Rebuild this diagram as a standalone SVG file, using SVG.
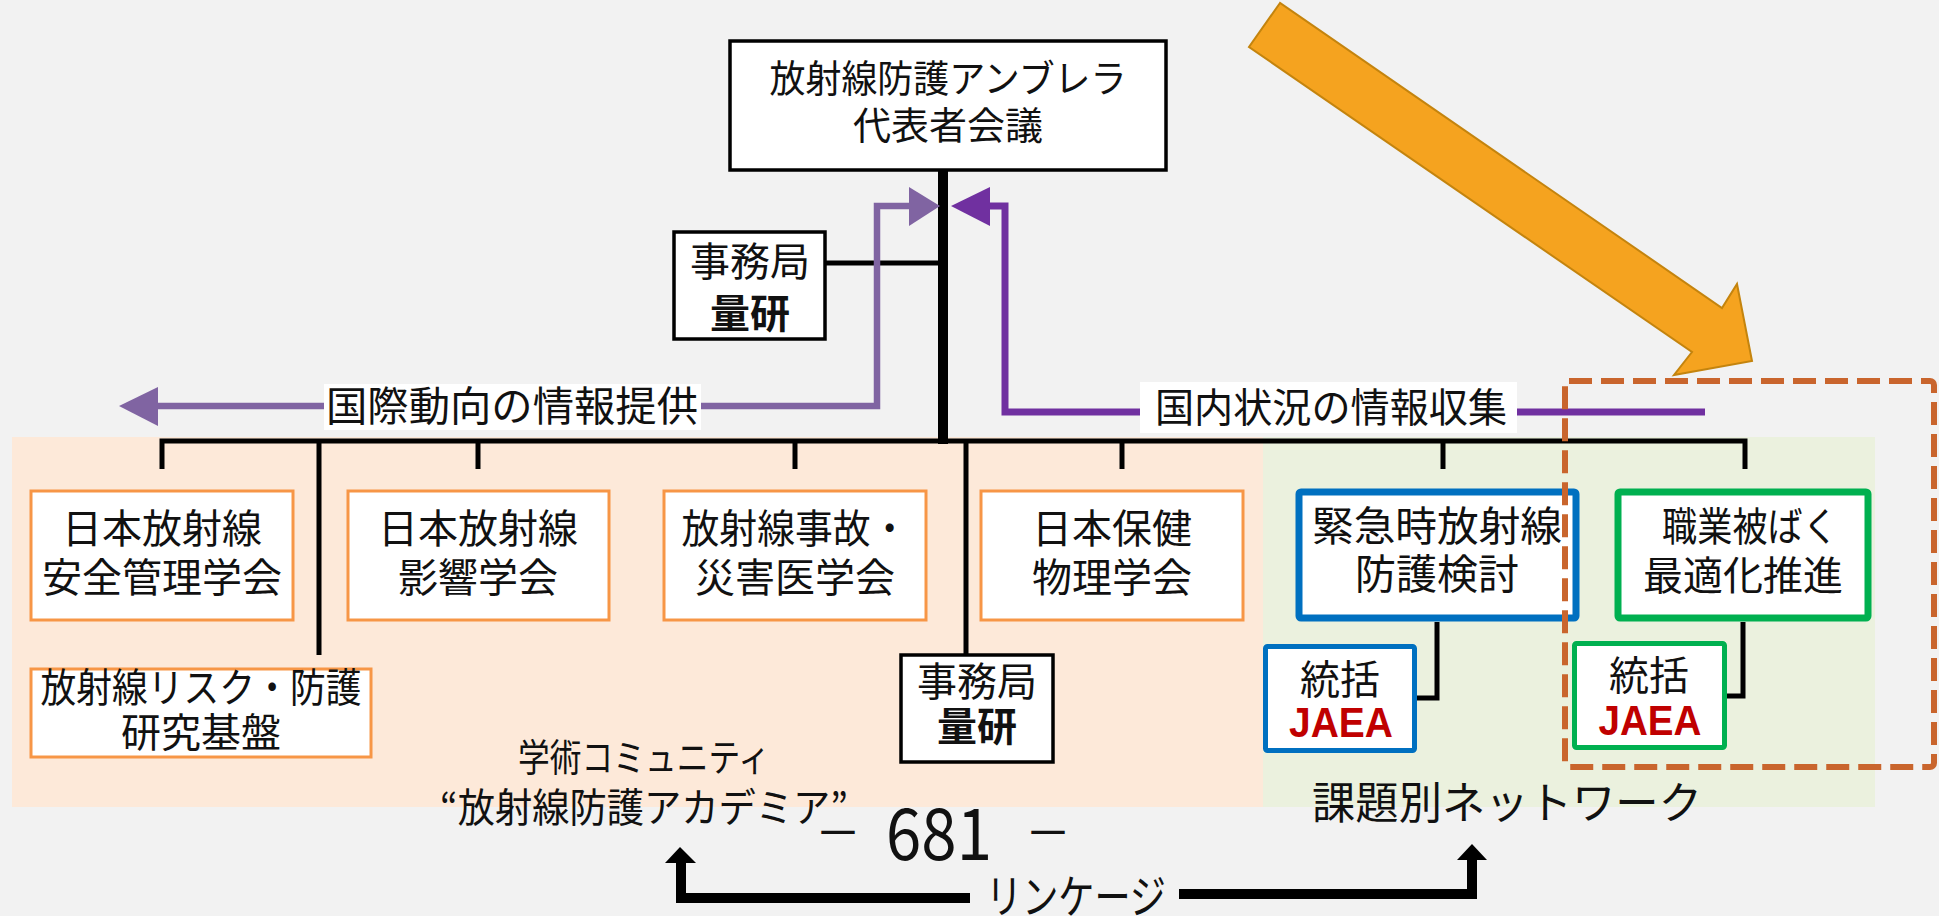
<svg xmlns="http://www.w3.org/2000/svg" width="1939" height="916" viewBox="0 0 1939 916">
<style>
.t{font-family:"Noto Sans CJK JP","Noto Sans",sans-serif;fill:#111;text-anchor:middle}
.b{font-weight:bold}
.j{font-family:"Liberation Sans",Arial,sans-serif;font-weight:bold;fill:#C00000;text-anchor:middle;font-size:42px}
.ob{fill:#fff;stroke:#F79646;stroke-width:3}
.kb{fill:#fff;stroke:#000;stroke-width:3.5}
.blue{fill:#fff;stroke:#0070C0}
.grn{fill:#fff;stroke:#00B050}
.ln{stroke:#000;stroke-width:5;fill:none}
</style>
<rect x="0" y="0" width="1939" height="916" fill="#F2F2F2"/>
<rect x="12" y="437" width="1251" height="370" fill="#FDE9D9"/>
<rect x="1263" y="437" width="612" height="370" fill="#EBF1DE"/>

<g id="connectors">
  <line x1="943" y1="169" x2="943" y2="444" stroke="#000" stroke-width="10"/>
  <line class="ln" x1="825" y1="263" x2="943" y2="263"/>
  <path class="ln" d="M162 469 V441 H1745 V469"/>
  <line class="ln" x1="478" y1="441" x2="478" y2="469"/>
  <line class="ln" x1="795" y1="441" x2="795" y2="469"/>
  <line class="ln" x1="1122" y1="441" x2="1122" y2="469"/>
  <line class="ln" x1="1443" y1="441" x2="1443" y2="469"/>
  <line class="ln" x1="319" y1="441" x2="319" y2="655"/>
  <line class="ln" x1="966" y1="441" x2="966" y2="655"/>
  <path class="ln" d="M1437 622 V698 H1417"/>
  <path class="ln" d="M1743 622 V696 H1727"/>
  <path d="M158 406 H877 V206 H910" fill="none" stroke="#8064A2" stroke-width="6.5"/>
  <polygon points="158,387 119,406 158,426" fill="#8064A2"/>
  <polygon points="909,187 940,206 909,226" fill="#8064A2"/>
  <path d="M1705 412 H1005 V206 H989" fill="none" stroke="#7030A0" stroke-width="7"/>
  <polygon points="990,187 951,206 990,226" fill="#7030A0"/>
  <path d="M970 898 H681 V860" fill="none" stroke="#000" stroke-width="10"/>
  <polygon points="665,863 680,847 696,863" fill="#000"/>
  <path d="M1179 894 H1472 V856" fill="none" stroke="#000" stroke-width="10"/>
  <polygon points="1457,860 1472,844 1487,860" fill="#000"/>
  <polygon points="1280,3 1249,47 1692,352 1674,375 1752,361 1737,284 1722,308" fill="#F5A31F" stroke="#C4840E" stroke-width="2"/>
</g>

<g id="label-intl">
  <rect x="324" y="384" width="377" height="46" fill="#fff"/>
  <text class="t" x="512" y="421" font-size="41" textLength="372" lengthAdjust="spacingAndGlyphs">国際動向の情報提供</text>
</g>
<g id="label-dom">
  <rect x="1140" y="382" width="377" height="51" fill="#fff"/>
  <text class="t" x="1331" y="422" font-size="40" textLength="352" lengthAdjust="spacingAndGlyphs">国内状況の情報収集</text>
</g>

<g id="node-top">
  <rect class="kb" x="730" y="41" width="436" height="129"/>
  <text class="t" x="948" y="92" font-size="38" textLength="357" lengthAdjust="spacingAndGlyphs">放射線防護アンブレラ</text>
  <text class="t" x="948" y="139" font-size="38">代表者会議</text>
</g>
<g id="node-sec1">
  <rect class="kb" x="674" y="232" width="151" height="107"/>
  <text class="t" x="750" y="276" font-size="40">事務局</text>
  <text class="t b" x="750" y="328" font-size="40">量研</text>
</g>

<g id="node-jsrpm">
  <rect class="ob" x="31" y="491" width="262" height="129"/>
  <text class="t" x="162" y="543" font-size="40">日本放射線</text>
  <text class="t" x="162" y="592" font-size="40">安全管理学会</text>
</g>
<g id="node-jrrs">
  <rect class="ob" x="348" y="491" width="261" height="129"/>
  <text class="t" x="478" y="543" font-size="40">日本放射線</text>
  <text class="t" x="478" y="592" font-size="40">影響学会</text>
</g>
<g id="node-disaster">
  <rect class="ob" x="664" y="491" width="262" height="129"/>
  <text class="t" x="795" y="543" font-size="40" textLength="227" lengthAdjust="spacingAndGlyphs">放射線事故・</text>
  <text class="t" x="795" y="592" font-size="40">災害医学会</text>
</g>
<g id="node-jhps">
  <rect class="ob" x="981" y="491" width="262" height="129"/>
  <text class="t" x="1112" y="543" font-size="40">日本保健</text>
  <text class="t" x="1112" y="592" font-size="40">物理学会</text>
</g>
<g id="node-risk">
  <rect class="ob" x="31" y="669" width="340" height="88"/>
  <text class="t" x="201" y="702" font-size="40" textLength="321" lengthAdjust="spacingAndGlyphs">放射線リスク・防護</text>
  <text class="t" x="201" y="747" font-size="40">研究基盤</text>
</g>
<g id="node-sec2">
  <rect class="kb" x="901" y="655" width="152" height="107"/>
  <text class="t" x="977" y="696" font-size="40">事務局</text>
  <text class="t b" x="977" y="741" font-size="40">量研</text>
</g>
<g id="node-emerg">
  <rect class="blue" x="1299" y="492" width="277" height="126" stroke-width="7" rx="2"/>
  <text class="t" x="1437" y="541" font-size="41" textLength="250" lengthAdjust="spacingAndGlyphs">緊急時放射線</text>
  <text class="t" x="1437" y="589" font-size="41">防護検討</text>
</g>
<g id="node-jaea1">
  <rect class="blue" x="1265.5" y="646.5" width="149" height="104" stroke-width="5" rx="2"/>
  <text class="t" x="1340" y="694" font-size="40">統括</text>
  <text class="j" x="1341" y="737" textLength="104" lengthAdjust="spacingAndGlyphs">JAEA</text>
</g>
<g id="node-occup">
  <rect class="grn" x="1618" y="492" width="250" height="126" stroke-width="7" rx="2"/>
  <text class="t" x="1750" y="541" font-size="40" textLength="176" lengthAdjust="spacingAndGlyphs">職業被ばく</text>
  <text class="t" x="1743" y="590" font-size="40">最適化推進</text>
</g>
<g id="node-jaea2">
  <rect class="grn" x="1574.5" y="643.5" width="150" height="104" stroke-width="5" rx="2"/>
  <text class="t" x="1649" y="690" font-size="40">統括</text>
  <text class="j" x="1650" y="735" textLength="103" lengthAdjust="spacingAndGlyphs">JAEA</text>
</g>

<g id="focus">
  <rect x="1565" y="381" width="369" height="386" rx="4" fill="none" stroke="#C9652D" stroke-width="6" stroke-dasharray="23 9"/>
</g>

<g id="captions">
  <text class="t" x="644" y="771" font-size="38" textLength="252" lengthAdjust="spacingAndGlyphs">学術コミュニティ</text>
  <text class="t" x="644" y="822" font-size="40" textLength="408" lengthAdjust="spacingAndGlyphs">“放射線防護アカデミア”</text>
  <text class="t" x="1507" y="819" font-size="44" textLength="390" lengthAdjust="spacingAndGlyphs">課題別ネットワーク</text>
  <text class="t" x="838" y="849" font-size="46">－</text>
  <text class="t" x="939" y="860" font-size="72" textLength="106" lengthAdjust="spacingAndGlyphs">681</text>
  <text class="t" x="1048" y="849" font-size="46">－</text>
  <text class="t" x="1076" y="913" font-size="46" textLength="180" lengthAdjust="spacingAndGlyphs">リンケージ</text>
</g>
</svg>
